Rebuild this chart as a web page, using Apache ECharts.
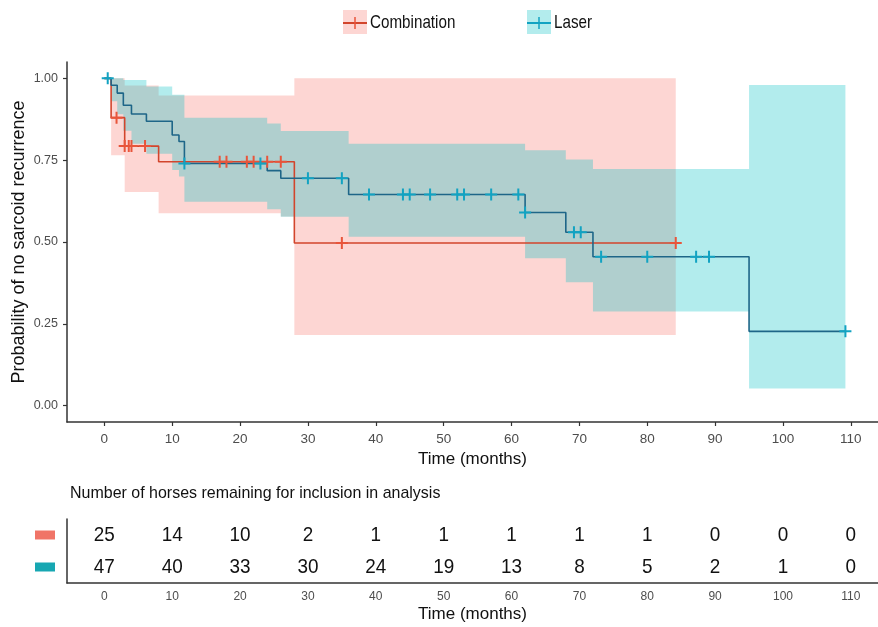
<!DOCTYPE html>
<html><head><meta charset="utf-8">
<script src="https://cdn.jsdelivr.net/npm/echarts@6/dist/echarts.min.js"></script>
<style>html,body{margin:0;padding:0;background:#fff}#c{width:878px;height:627px}</style>
</head><body><div id="c"></div>
<script>
// ---- Kaplan-Meier step data (time in months, survival probability) ----
const comboTimes = [0, 1, 3, 8, 28, 84.2];
const comboSurv  = [1.0, 0.88, 0.793, 0.745, 0.497, 0.497];
const comboCensor = [1.8, 3, 3.6, 4, 6, 17, 18, 21, 22, 24, 26, 35, 84.2];

const laserTimes = [0, 1, 1.9, 2.8, 4, 6.2, 10, 11, 11.8, 24, 26, 36, 62, 68, 72, 95, 109.2];
const laserSurv  = [1.0, 0.979, 0.955, 0.918, 0.891, 0.869, 0.827, 0.807, 0.74, 0.718, 0.695, 0.645, 0.59, 0.53, 0.455, 0.227, 0.227];
const laserCensor = [0.5, 11.8, 23, 30, 35, 39, 44, 45, 48, 52, 53, 57, 61, 62, 69.2, 70.2, 73.2, 80, 87.2, 89.1, 109.2];

// ---- confidence bands ----
const comboCiTimes = [0, 1, 3, 8, 26, 28, 84.2];
const comboUpper   = [1.0, 1.0, 0.978, 0.948, 0.948, 1.0, 1.0];
const comboLower   = [1.0, 0.765, 0.653, 0.588, 0.578, 0.216, 0.216];

const laserCiTimes = [0, 1, 1.9, 2.8, 4, 6.2, 10, 11, 11.8, 24, 26, 36, 62, 68, 72, 95, 109.2];
const laserUpper   = [1.0, 1.0, 1.0, 0.995, 0.995, 0.975, 0.95, 0.95, 0.88, 0.862, 0.839, 0.80, 0.78, 0.752, 0.723, 0.98, 0.98];
const laserLower   = [1.0, 0.93, 0.89, 0.84, 0.80, 0.77, 0.72, 0.70, 0.623, 0.60, 0.577, 0.516, 0.45, 0.377, 0.288, 0.052, 0.052];

// ---- axes / risk table ----
const xTicks = [0, 10, 20, 30, 40, 50, 60, 70, 80, 90, 100, 110];
const yTicks = [0, 0.25, 0.5, 0.75, 1.0];
const groups = ['Combination', 'Laser'];
const comboAtRisk = [25, 14, 10, 2, 1, 1, 1, 1, 1, 0, 0, 0];
const laserAtRisk = [47, 40, 33, 30, 24, 19, 13, 8, 5, 2, 1, 0];

const SANS = "'Liberation Sans', Arial, sans-serif";
const RED_LINE = '#D2452C', RED_MARK = '#E8553B', RED_BAND = 'rgba(248,118,109,0.30)';
const BLUE_LINE = '#1E6688', BLUE_MARK = '#12A3C2', BLUE_BAND = 'rgba(0,191,196,0.30)';

const zip = (a, b) => a.map((v, i) => [v, b[i]]);
function survAt(times, surv, t) { let v = surv[0]; for (let i = 0; i < times.length; i++) if (times[i] <= t) v = surv[i]; return v; }
const cross = 'path://M5,0H7V5H12V7H7V12H5V7H0V5H5Z';

const chart = echarts.init(document.getElementById('c'), null, { renderer: 'canvas' });

function bandSeries(name, times, lo, hi, color) {
  return {
    name: name, type: 'custom', xAxisIndex: 0, yAxisIndex: 0, silent: true, z: 1, clip: true,
    data: times.map((t, i) => [t, lo[i], hi[i]]), encode: { x: 0, y: [1, 2] },
    renderItem: function (params, api) {
      if (params.dataIndex !== 0) return null;
      const n = times.length, pts = [];
      for (let i = 0; i < n; i++) {
        pts.push(api.coord([times[i], hi[i]]));
        if (i < n - 1) pts.push(api.coord([times[i + 1], hi[i]]));
      }
      for (let i = n - 1; i >= 0; i--) {
        if (i < n - 1) pts.push(api.coord([times[i + 1], lo[i]]));
        pts.push(api.coord([times[i], lo[i]]));
      }
      return { type: 'polygon', shape: { points: pts }, style: { fill: color } };
    }
  };
}

const tableData = xTicks.map((t, i) => [t, 'Combination', comboAtRisk[i]])
  .concat(xTicks.map((t, i) => [t, 'Laser', laserAtRisk[i]]));

const option = {
  animation: false,
  backgroundColor: '#fff',
  grid: [
    { left: 67, right: 0, top: 62, height: 360, outerBoundsMode: 'none', containLabel: false },
    { left: 67, right: 0, top: 519, height: 64, outerBoundsMode: 'none', containLabel: false }
  ],
  xAxis: [
    { gridIndex: 0, type: 'value', min: -5.5, max: 114, splitLine: { show: false },
      axisLine: { show: true, onZero: false, lineStyle: { color: '#333', width: 1.5 } },
      axisTick: { customValues: xTicks, length: 4, lineStyle: { color: '#333', width: 1.2 } },
      axisLabel: { customValues: xTicks, color: '#4d4d4d', fontSize: 13.5, fontFamily: SANS, margin: 10 },
      name: 'Time (months)', nameLocation: 'middle', nameGap: 29,
      nameTextStyle: { color: '#111', fontSize: 17, fontFamily: SANS } },
    { gridIndex: 1, type: 'value', min: -5.5, max: 114, splitLine: { show: false },
      axisLine: { show: true, onZero: false, lineStyle: { color: '#333', width: 1.5 } },
      axisTick: { customValues: xTicks, length: 4, lineStyle: { color: '#333', width: 1.2 } },
      axisLabel: { customValues: xTicks, color: '#4d4d4d', fontSize: 12, fontFamily: SANS, margin: 8 },
      name: 'Time (months)', nameLocation: 'middle', nameGap: 23,
      nameTextStyle: { color: '#111', fontSize: 17, fontFamily: SANS } }
  ],
  yAxis: [
    { gridIndex: 0, type: 'value', min: -0.05, max: 1.05, splitLine: { show: false },
      axisLine: { show: true, onZero: false, lineStyle: { color: '#333', width: 1.5 } },
      axisTick: { show: true, customValues: yTicks, length: 4, lineStyle: { color: '#333', width: 1.2 } },
      axisLabel: { customValues: yTicks, color: '#4d4d4d', fontSize: 12.5, fontFamily: SANS, margin: 9,
                   formatter: v => v.toFixed(2) },
      name: 'Probability of no sarcoid recurrence', nameLocation: 'middle', nameGap: 39, nameMoveOverlap: false,
      nameTextStyle: { color: '#111', fontSize: 18, fontFamily: SANS } },
    { gridIndex: 1, type: 'category', data: groups, inverse: true,
      axisLine: { show: true, onZero: false, lineStyle: { color: '#333', width: 1.5 } },
      axisTick: { show: false },
      axisLabel: { margin: 12, formatter: (v) => v === 'Combination' ? '{r|}' : '{b|}',
        rich: { r: { width: 20, height: 9, backgroundColor: '#F07467' },
                b: { width: 20, height: 9, backgroundColor: '#17A7B2' } } } }
  ],
  graphic: [
    { type: 'rect', shape: { x: 343, y: 10, width: 24, height: 24 }, style: { fill: '#FDD6D3' } },
    { type: 'line', shape: { x1: 343, y1: 23, x2: 367, y2: 23 }, style: { stroke: RED_LINE, lineWidth: 2 } },
    { type: 'line', shape: { x1: 355, y1: 17, x2: 355, y2: 29 }, style: { stroke: RED_MARK, lineWidth: 1.5 } },
    { type: 'text', x: 370, y: 23, scaleX: 0.8,
      style: { text: 'Combination', fontSize: 19, fontFamily: SANS, fill: '#111', align: 'left', verticalAlign: 'middle' } },
    { type: 'rect', shape: { x: 527, y: 10, width: 24, height: 24 }, style: { fill: '#B3ECED' } },
    { type: 'line', shape: { x1: 527, y1: 23, x2: 551, y2: 23 }, style: { stroke: BLUE_MARK, lineWidth: 2 } },
    { type: 'line', shape: { x1: 539, y1: 17, x2: 539, y2: 29 }, style: { stroke: BLUE_MARK, lineWidth: 1.5 } },
    { type: 'text', x: 554, y: 23, scaleX: 0.8,
      style: { text: 'Laser', fontSize: 19, fontFamily: SANS, fill: '#111', align: 'left', verticalAlign: 'middle' } },
    { type: 'text', x: 70, y: 493, scaleX: 0.94,
      style: { text: 'Number of horses remaining for inclusion in analysis', fontSize: 17, fontFamily: SANS, fill: '#111', align: 'left', verticalAlign: 'middle' } }
  ],
  series: [
    bandSeries('Combination CI', comboCiTimes, comboLower, comboUpper, RED_BAND),
    bandSeries('Laser CI', laserCiTimes, laserLower, laserUpper, BLUE_BAND),
    { name: 'Combination', type: 'line', step: 'end', data: zip(comboTimes, comboSurv), symbol: 'none',
      lineStyle: { color: RED_LINE, width: 1.6 }, z: 3 },
    { name: 'Laser', type: 'line', step: 'end', data: zip(laserTimes, laserSurv), symbol: 'none',
      lineStyle: { color: BLUE_LINE, width: 1.6 }, z: 3 },
    { name: 'Combination censored', type: 'scatter', symbol: cross, symbolSize: 12,
      data: comboCensor.map(t => [t, survAt(comboTimes, comboSurv, t)]),
      itemStyle: { color: RED_MARK, opacity: 1 }, z: 4 },
    { name: 'Laser censored', type: 'scatter', symbol: cross, symbolSize: 12,
      data: laserCensor.map(t => [t, survAt(laserTimes, laserSurv, t)]),
      itemStyle: { color: BLUE_MARK, opacity: 1 }, z: 4 },
    { name: 'At risk', type: 'custom', xAxisIndex: 1, yAxisIndex: 1, silent: true,
      data: tableData, encode: { x: 0, y: 1 },
      renderItem: function (params, api) {
        const p = api.coord([api.value(0), api.value(1)]);
        return { type: 'text', x: p[0], y: p[1], scaleX: 0.9,
          style: { text: String(tableData[params.dataIndex][2]), fontSize: 21, fontFamily: SANS, fill: '#111',
                   align: 'center', verticalAlign: 'middle' } };
      } }
  ]
};
chart.setOption(option);
</script></body></html>
